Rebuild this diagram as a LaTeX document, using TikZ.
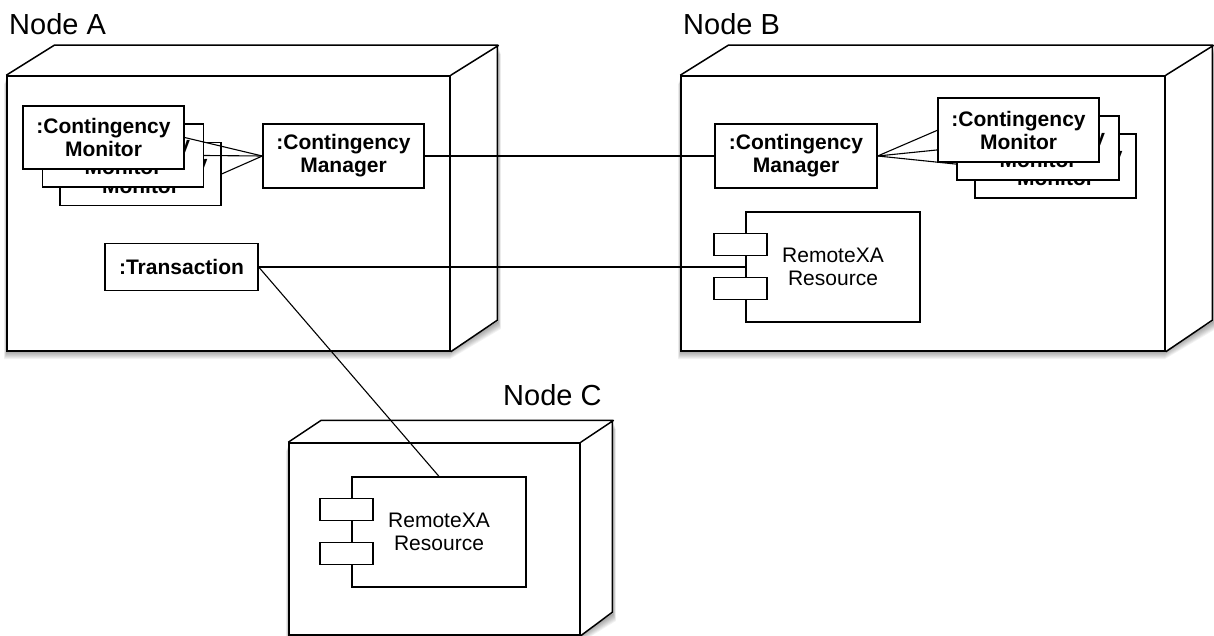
\documentclass[tikz,border=0pt]{standalone}
\usepackage{fontspec}
\setmainfont{Liberation Sans}
\tikzset{
  dface/.style={draw, fill=white, line width=1.5pt, inner sep=0pt},
  dline/.style={line width=1.5pt, line join=miter},
  obj/.style={draw, fill=white, line width=1.3pt, inner sep=0pt, align=center,
    minimum width=161pt, minimum height=63pt, font=\bfseries\fontsize{21}{23}\selectfont},
  comp/.style={draw, fill=white, line width=1.2pt, inner sep=0pt, align=center,
    minimum width=174pt, minimum height=110pt, font=\fontsize{21}{23}\selectfont},
  port/.style={draw, fill=white, line width=1.2pt, inner sep=0pt,
    minimum width=53pt, minimum height=22pt},
  conn/.style={line width=1.1pt},
  nodelabel/.style={anchor=base west, inner sep=0pt, font=\fontsize{29}{34}\selectfont}
}
\newcommand{\deploynode}[7]{%
  \pgfmathsetmacro{\dL}{#2-#4/2}%
  \pgfmathsetmacro{\dR}{#2+#4/2}%
  \pgfmathsetmacro{\dT}{#3-#5/2}%
  \pgfmathsetmacro{\dB}{#3+#5/2}%
  \foreach \s in {1,...,8}{%
    \fill[black,opacity=0.05] ({\dL-0.35*\s},{\dB+\s}) -- ({\dL-0.35*\s},{\dT+\s}) -- ({\dL+#6},{\dT-#7+\s}) -- ({\dR+#6+0.35*\s},{\dT-#7+\s}) -- ({\dR+#6+0.35*\s},{\dB-#7+\s}) -- ({\dR},{\dB+\s}) -- cycle;
  }%
  \fill[white] (\dL,\dB) -- (\dL,\dT) -- ({\dL+#6},{\dT-#7}) -- ({\dR+#6},{\dT-#7}) -- ({\dR+#6},{\dB-#7}) -- (\dR,\dB) -- cycle;
  \node[dface, minimum width=#4, minimum height=#5] (#1) at (#2,#3) {};
  \draw[dline] (#1.north west) -- ++(#6,-#7) -- ++(#4,0) -- ++(0,#5) -- (#1.south east)
               (#1.north east) -- ++(#6,-#7);
}
\begin{document}
\begin{tikzpicture}[x=1pt,y=-1pt]
\useasboundingbox (0,0) rectangle (1214,636);

% ---------- Node A ----------
\deploynode{nA}{228.5}{213.5}{443}{275}{48}{30}
\node[nodelabel] (labA) at (9,35) {Node A};
\node[obj] (mA3) at (140.5,174) {:Contingency\\Monitor};
\node[obj] (mA2) at (123,155.5) {:Contingency\\Monitor};
\node[obj] (mA1) at (103.5,137.5) {:Contingency\\Monitor};
\node[obj, minimum height=64pt] (mgrA) at (343.5,156) {:Contingency\\Manager};
\node[obj, minimum width=153pt, minimum height=47pt] (tr) at (181.5,267) {:Transaction};
\draw[conn] (mgrA.west) -- (mA1.east);
\draw[conn] (mgrA.west) -- (mA2.east);
\draw[conn] (mgrA.west) -- (mA3.east);

% ---------- Node B ----------
\deploynode{nB}{923}{213.5}{484}{275}{48}{30}
\node[nodelabel] (labB) at (683,35) {Node B};
\node[obj, minimum width=162pt, minimum height=64pt] (mgrB) at (796,156) {:Contingency\\Manager};
\node[obj, minimum height=64pt] (mB3) at (1055.5,166) {:Contingency\\Monitor};
\draw[conn] (mgrB.east) -- (mB3.west);
\node[obj, minimum width=162pt, minimum height=64pt] (mB2) at (1038,148) {:Contingency\\Monitor};
\draw[conn] (mgrB.east) -- (mB2.west);
\coordinate (mB1w) at (938,130);
\draw[conn] (mgrB.east) -- (mB1w);
\node[obj, minimum height=64pt] (mB1) at (1018.5,130) {:Contingency\\Monitor};
\node[comp] (cB) at (833,267) {RemoteXA\\Resource};
\node[port] (pB1) at ([xshift=-5pt,yshift=-33pt]cB.north west) {};
\node[port] (pB2) at ([xshift=-5pt,yshift=-77pt]cB.north west) {};

% ---------- Node C ----------
\deploynode{nC}{434.5}{539}{291}{192}{33}{22}
\node[nodelabel] (labC) at (503,405) {Node C};
\node[comp] (cC) at (439,532) {RemoteXA\\Resource};
\node[port] (pC1) at ([xshift=-5pt,yshift=-33pt]cC.north west) {};
\node[port] (pC2) at ([xshift=-5pt,yshift=-77pt]cC.north west) {};

% ---------- connectors ----------
\draw[conn] (mgrA.east) -- (mgrB.west);
\draw[conn] (tr.east) -- (cB.west);
\draw[conn] (tr.east) -- (cC.north);
\end{tikzpicture}
\end{document}
